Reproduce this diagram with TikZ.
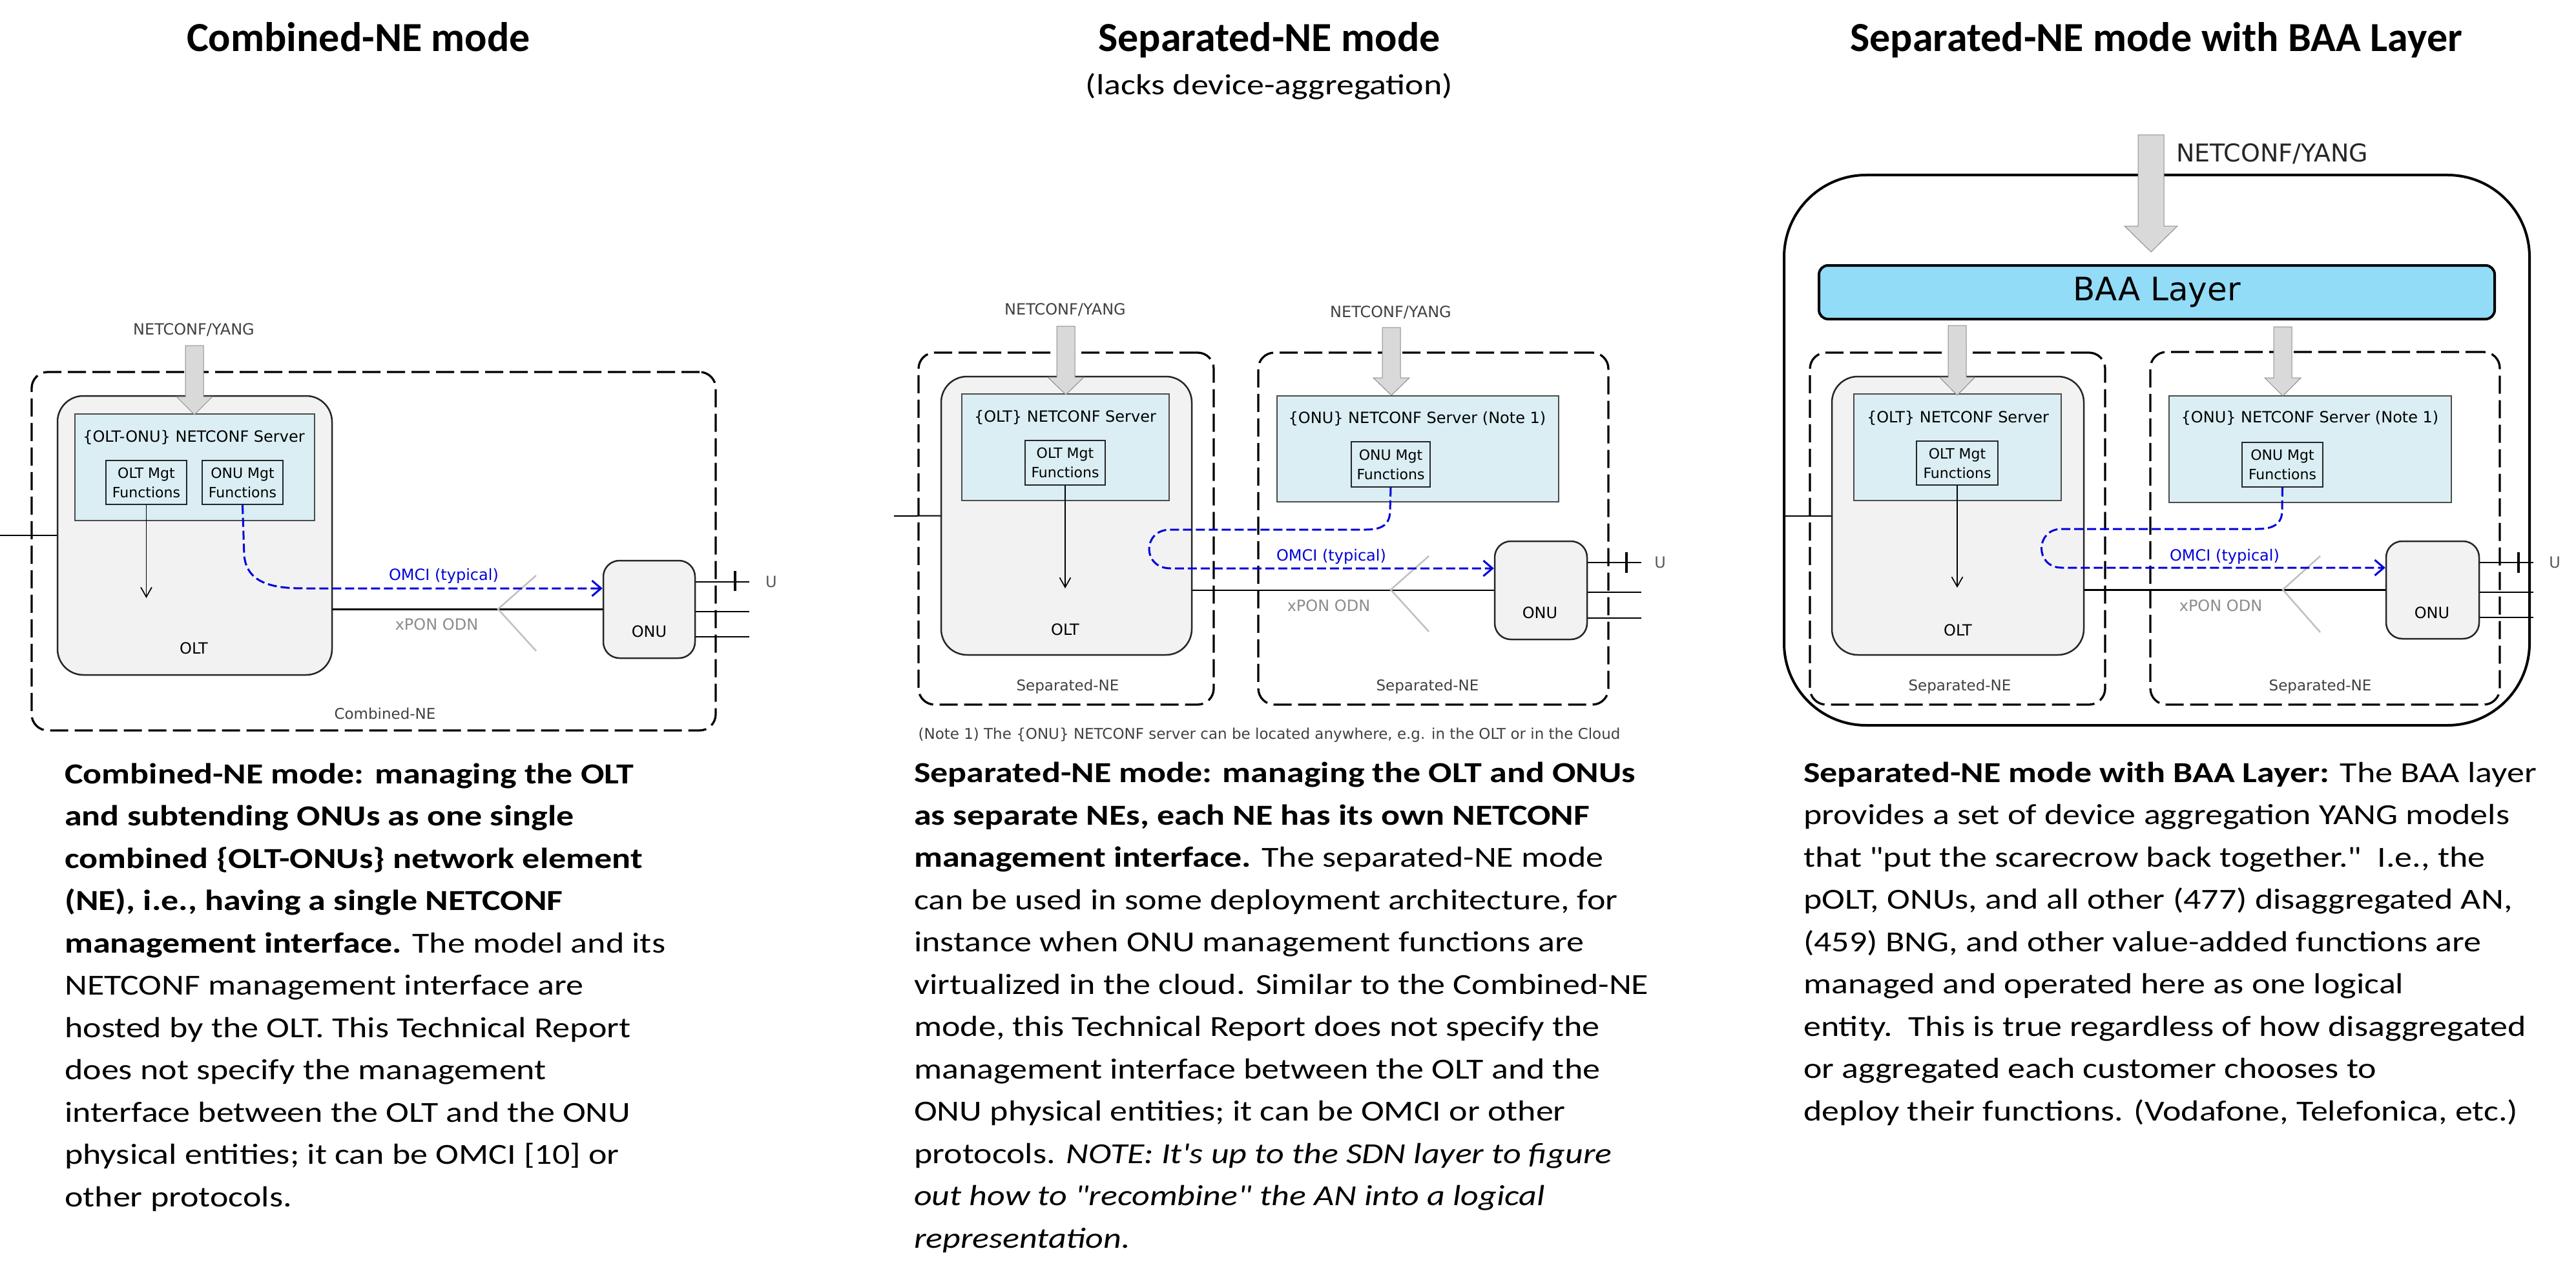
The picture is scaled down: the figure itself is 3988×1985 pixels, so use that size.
\documentclass[tikz,border=0pt]{standalone}
\usepackage{fontspec}
\newfontfamily\bodyfont{Carlito}[FakeStretch=1.2]
\newfontfamily\headfont{Carlito}
\newfontfamily\diagfont{DejaVu Sans}
\usetikzlibrary{arrows.meta}
\definecolor{oltfill}{HTML}{F2F2F2}
\definecolor{srvfill}{HTML}{DAEEF3}
\definecolor{baafill}{HTML}{92DCF8}
\definecolor{arrgray}{HTML}{D9D9D9}
\definecolor{omciblue}{HTML}{0000DC}
\definecolor{labgray}{HTML}{404040}
\definecolor{xpongray}{HTML}{8C8C8C}
\definecolor{chevgray}{HTML}{C0C0C0}
\tikzset{
  dfont/.style={font=\diagfont\fontsize{24}{31}\selectfont},
  nebox/.style={draw, dash pattern=on 28pt off 10pt, line width=3.3pt, rounded corners=25pt, inner sep=0},
  oltbox/.style={draw=black!85, fill=oltfill, line width=2.5pt, rounded corners=40pt, inner sep=0},
  srvbox/.style={draw=black!70, fill=srvfill, line width=1.5pt, inner sep=0},
  mgtbox/.style={draw=black!85, fill=srvfill, line width=1.5pt, inner sep=0, align=center, font=\diagfont\fontsize{22}{30}\selectfont},
  onubox/.style={draw=black!85, fill=oltfill, line width=2.5pt, rounded corners=25pt, inner sep=0},
  baabox/.style={draw, fill=baafill, line width=4pt, rounded corners=14pt, inner sep=0, font=\diagfont\fontsize{50}{60}\selectfont},
  outerbox/.style={draw, line width=4pt, rounded corners=127pt, inner sep=0},
  garrow/.style={fill=arrgray, draw=black!45, line width=1pt},
  conn/.style={line width=1.7pt, -{Straight Barb[length=15pt,width=17pt]}},
  omci/.style={draw=omciblue, line width=3pt, dash pattern=on 14pt off 6pt, -{Straight Barb[length=14pt,width=24pt]}},
  pon/.style={line width=2.5pt},
  chev/.style={draw=chevgray, line width=2.5pt},
  ulink/.style={line width=2pt},
  tickmark/.style={line width=3.5pt},
  lbl/.style={dfont, inner sep=0},
  nelbl/.style={font=\diagfont\fontsize{23}{28}\selectfont, text=labgray, inner sep=0},
  nclbl/.style={dfont, text=labgray, inner sep=0},
  omcilbl/.style={dfont, text=omciblue, inner sep=0},
  xponlbl/.style={dfont, text=xpongray, inner sep=0},
  ulbl/.style={dfont, text=black!65, inner sep=0},
  bodytxt/.style={font=\bodyfont\fontsize{45}{65.5}\selectfont, align=left, anchor=base west, inner sep=0},
  headtxt/.style={font=\headfont\bfseries\fontsize{64}{72}\selectfont, anchor=base, inner sep=0}
}
% box node from corner coordinates: style, name, x1, y1, x2, y2, text
\newcommand\bx[7]{\node[#1, minimum width={#5pt-#3pt}, minimum height={#6pt-#4pt}] (#2) at ({(#3+#5)/2},{(#4+#6)/2}) {#7};}
% gray block arrow: x, half shaft, half head, top, head start, tip
\newcommand\garr[6]{\filldraw[garrow] ({#1-#2},#4) -- ({#1+#2},#4) -- ({#1+#2},#5) -- ({#1+#3},#5) -- (#1,#6) -- ({#1-#3},#5) -- ({#1-#2},#5) -- cycle;}
\begin{document}
\begin{tikzpicture}[x=1pt,y=-1pt]
\fill[white] (0,0) rectangle (3988,1985);
\useasboundingbox (0,0) rectangle (3988,1985);

% ---------- headings ----------
\node[headtxt] (h1) at (555,80) {Combined-NE mode};
\node[headtxt] (h2) at (1965,80) {Separated-NE mode};
\node[font=\bodyfont\fontsize{45}{54}\selectfont, anchor=base, inner sep=0] (h2s) at (1965,147) {(lacks device-aggregation)};
\node[headtxt] (h3) at (3338,80) {Separated-NE mode with BAA Layer};

% ================= Panel 1 =================
\bx{nebox}{ne1}{49}{576}{1108}{1131}{}
\bx{oltbox}{olt1}{89}{613}{514}{1045}{}
\bx{srvbox}{srv1}{116}{641}{487}{806}{}
\bx{mgtbox}{oltmgt1}{164}{713}{289}{781}{OLT Mgt\\Functions}
\bx{mgtbox}{onumgt1}{313}{713}{438}{781}{ONU Mgt\\Functions}
\bx{onubox}{onu1}{934}{868}{1076}{1019}{}
\node[lbl] (srv1txt) at (300,677) {\{OLT-ONU\} NETCONF Server};
\node[lbl] (olt1txt) at (300,1004) {OLT};
\node[lbl] (onu1txt) at (1005,978) {ONU};
\node[nclbl] (nc1) at (300,511) {NETCONF/YANG};
\node[nelbl] (ne1txt) at (596,1105) {Combined-NE};
\node[omcilbl] (omci1) at (687,892) {OMCI (typical)};
\node[xponlbl] (xpon1) at (676,967) {xPON ODN};
\node[ulbl] (u1) at (1194,901) {U};
\coordinate (stub1) at (0,829);
\coordinate (u1a) at (1160,901);
\coordinate (u1b) at (1160,947);
\coordinate (u1c) at (1160,986);
\draw[ulink] (olt1.west) -- (stub1);
\draw[pon] (olt1.east |- onu1.west) -- (onu1.west);
\draw[chev] (830,891) -- (771,943) -- (830,1008);
\draw[ulink] (onu1.east |- u1a) -- (u1a);
\draw[ulink] (onu1.east |- u1b) -- (u1b);
\draw[ulink] (onu1.east |- u1c) -- (u1c);
\draw[tickmark] (1138,884) -- (1138,915);
\draw[conn] (oltmgt1.south) -- (oltmgt1.south |- 0,926);
\draw[omci] (onumgt1.south) -- (378,860) .. controls (382,902) and (420,911) .. (470,911) -- (onu1.west |- 470,911);
\garr{301}{14}{28}{535}{614}{642}

% ================= Panel 2 =================
\bx{nebox}{ne2a}{1422}{546}{1879}{1091}{}
\bx{nebox}{ne2b}{1948}{546}{2490}{1091}{}
\bx{oltbox}{olt2}{1457}{583}{1845}{1014}{}
\bx{srvbox}{srv2a}{1489}{610}{1810}{775}{}
\bx{mgtbox}{oltmgt2}{1587}{682}{1711}{751}{OLT Mgt\\Functions}
\bx{srvbox}{srv2b}{1977}{613}{2413}{777}{}
\bx{mgtbox}{onumgt2}{2092}{684}{2214}{754}{ONU Mgt\\Functions}
\bx{onubox}{onu2}{2314}{838}{2457}{990}{}
\node[lbl] (srv2atxt) at (1649,646) {\{OLT\} NETCONF Server};
\node[lbl] (srv2btxt) at (2194,648) {\{ONU\} NETCONF Server (Note 1)};
\node[lbl] (olt2txt) at (1649,975) {OLT};
\node[lbl] (onu2txt) at (2384,949) {ONU};
\node[nclbl] (nc2a) at (1649,480) {NETCONF/YANG};
\node[nclbl] (nc2b) at (2153,484) {NETCONF/YANG};
\node[nelbl] (ne2atxt) at (1653,1063) {Separated-NE};
\node[nelbl] (ne2btxt) at (2210,1063) {Separated-NE};
\node[omcilbl] (omci2) at (2061,862) {OMCI (typical)};
\node[xponlbl] (xpon2) at (2057,938) {xPON ODN};
\node[ulbl] (u2) at (2570,871) {U};
\node[font=\diagfont\fontsize{23}{27}\selectfont, text=labgray, inner sep=0] (note2) at (1965,1138) {(Note 1) The \{ONU\} NETCONF server can be located anywhere, e.g. in the OLT or in the Cloud};
\coordinate (stub2) at (1384,799);
\coordinate (u2a) at (2541,871);
\coordinate (u2b) at (2541,917);
\coordinate (u2c) at (2541,957);
\draw[ulink] (olt2.west) -- (stub2);
\draw[pon] (olt2.east |- onu2.west) -- (onu2.west);
\draw[chev] (2212,861) -- (2153,913) -- (2212,978);
\draw[ulink] (onu2.east |- u2a) -- (u2a);
\draw[ulink] (onu2.east |- u2b) -- (u2b);
\draw[ulink] (onu2.east |- u2c) -- (u2c);
\draw[tickmark] (2518,855) -- (2518,887);
\draw[conn] (oltmgt2.south) -- (oltmgt2.south |- 0,911);
\draw[omci] (onumgt2.south) -- (2152,790) .. controls (2152,812) and (2140,820) .. (2115,820) -- (1812,820) .. controls (1768,820) and (1768,880) .. (1812,880) -- (onu2.west |- 1812,880);
\garr{1650}{14}{28}{505}{584}{611}
\garr{2154}{14}{28}{507}{585}{612}

% ================= Panel 3 =================
\bx{outerbox}{outer3}{2762}{271}{3916}{1123}{}
\bx{baabox}{baa}{2816}{411}{3862}{494}{BAA Layer}
\bx{nebox}{ne3a}{2802}{546}{3259}{1091}{}
\bx{nebox}{ne3b}{3329}{545}{3870}{1091}{}
\bx{oltbox}{olt3}{2836}{583}{3226}{1014}{}
\bx{srvbox}{srv3a}{2870}{610}{3191}{775}{}
\bx{mgtbox}{oltmgt3}{2967}{683}{3093}{751}{OLT Mgt\\Functions}
\bx{srvbox}{srv3b}{3358}{613}{3795}{778}{}
\bx{mgtbox}{onumgt3}{3471}{685}{3596}{754}{ONU Mgt\\Functions}
\bx{onubox}{onu3}{3694}{838}{3838}{989}{}
\node[lbl] (srv3atxt) at (3031,647) {\{OLT\} NETCONF Server};
\node[lbl] (srv3btxt) at (3576,647) {\{ONU\} NETCONF Server (Note 1)};
\node[lbl] (olt3txt) at (3031,976) {OLT};
\node[lbl] (onu3txt) at (3765,949) {ONU};
\node[font=\diagfont\fontsize{38}{44}\selectfont, text=black!85, anchor=west, inner sep=0] (nc3) at (3369,238) {NETCONF/YANG};
\node[nelbl] (ne3atxt) at (3034,1063) {Separated-NE};
\node[nelbl] (ne3btxt) at (3592,1063) {Separated-NE};
\node[omcilbl] (omci3) at (3444,862) {OMCI (typical)};
\node[xponlbl] (xpon3) at (3438,938) {xPON ODN};
\node[ulbl] (u3) at (3955,871) {U};
\coordinate (u3a) at (3922,871);
\coordinate (u3b) at (3922,917);
\coordinate (u3c) at (3922,956);
\draw[ulink] (olt3.west) -- (olt3.west -| outer3.west);
\draw[pon] (olt3.east |- onu3.west) -- (onu3.west);
\draw[chev] (3592,861) -- (3534,913) -- (3592,979);
\draw[ulink] (onu3.east |- u3a) -- (u3a);
\draw[ulink] (onu3.east |- u3b) -- (u3b);
\draw[ulink] (onu3.east |- u3c) -- (u3c);
\draw[tickmark] (3899,855) -- (3899,887);
\draw[conn] (oltmgt3.south) -- (oltmgt3.south |- 0,910);
\draw[omci] (onumgt3.south) -- (3533,790) .. controls (3533,811) and (3520,819) .. (3495,819) -- (3192,819) .. controls (3150,819) and (3150,879) .. (3192,879) -- (onu3.west |- 3192,879);
\garr{3330}{20}{41}{209}{350}{390}
\garr{3030}{14}{27.5}{504}{584}{612}
\garr{3534}{14}{28}{506}{585}{613}

% ================= Body texts (anchored at last line baseline) =================
\node[bodytxt] (d1) at (100,1868) {%
\textbf{Combined-NE mode: managing the OLT}\\
\textbf{and subtending ONUs as one single}\\
\textbf{combined \{OLT-ONUs\} network element}\\
\textbf{(NE), i.e., having a single NETCONF}\\
\textbf{management interface.} The model and its\\
NETCONF management interface are\\
hosted by the OLT. This Technical Report\\
does not specify the management\\
interface between the OLT and the ONU\\
physical entities; it can be OMCI [10] or\\
other protocols.};

\node[bodytxt] (d2) at (1415,1932) {%
\textbf{Separated-NE mode: managing the OLT and ONUs}\\
\textbf{as separate NEs, each NE has its own NETCONF}\\
\textbf{management interface.} The separated-NE mode\\
can be used in some deployment architecture, for\\
instance when ONU management functions are\\
virtualized in the cloud. Similar to the Combined-NE\\
mode, this Technical Report does not specify the\\
management interface between the OLT and the\\
ONU physical entities; it can be OMCI or other\\
protocols. \textit{NOTE: It's up to the SDN layer to figure}\\
\textit{out how to "recombine" the AN into a logical}\\
\textit{representation.}};

\node[bodytxt] (d3) at (2792,1735) {%
\textbf{Separated-NE mode with BAA Layer:} The BAA layer\\
provides a set of device aggregation YANG models\\
that "put the scarecrow back together."\ \ I.e., the\\
pOLT, ONUs, and all other (477) disaggregated AN,\\
(459) BNG, and other value-added functions are\\
managed and operated here as one logical\\
entity.\ \ This is true regardless of how disaggregated\\
or aggregated each customer chooses to\\
deploy their functions. (Vodafone, Telefonica, etc.)};
\end{tikzpicture}
\end{document}
